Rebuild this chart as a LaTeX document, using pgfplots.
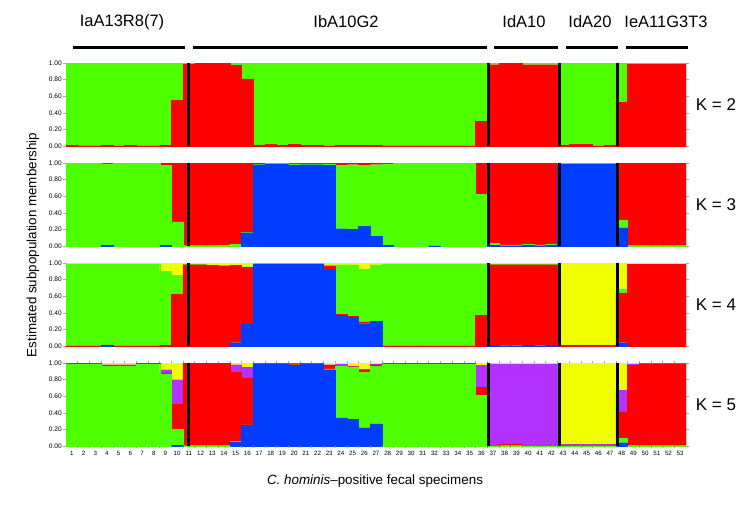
\documentclass[border=0pt]{standalone}
\usepackage{fontspec}
\setmainfont{Liberation Sans}
\usepackage{pgfplots}
\usepackage{pgfplotstable}
\pgfplotsset{compat=1.18}
\definecolor{cgreen}{RGB}{77,255,0}
\definecolor{cred}{RGB}{255,0,0}
\definecolor{cblue}{RGB}{0,61,255}
\definecolor{cyellow}{RGB}{240,255,0}
\definecolor{cpurple}{RGB}{180,50,255}

% K = 2 : red (bottom), green
\pgfplotstableread{
x r g
1 0.01 0.99
2 0.005 0.995
3 0.005 0.995
4 0.01 0.99
5 0.005 0.995
6 0.01 0.99
7 0.005 0.995
8 0.005 0.995
9 0.01 0.99
10 0.55 0.45
11 0.99 0.01
12 1.00 0.00
13 1.00 0.00
14 1.00 0.00
15 0.97 0.03
16 0.81 0.19
17 0.01 0.99
18 0.02 0.98
19 0.01 0.99
20 0.02 0.98
21 0.01 0.99
22 0.01 0.99
23 0.005 0.995
24 0.01 0.99
25 0.01 0.99
26 0.01 0.99
27 0.01 0.99
28 0.005 0.995
29 0.005 0.995
30 0.005 0.995
31 0.005 0.995
32 0.005 0.995
33 0.005 0.995
34 0.005 0.995
35 0.005 0.995
36 0.30 0.70
37 0.98 0.02
38 1.00 0.00
39 1.00 0.00
40 0.98 0.02
41 0.98 0.02
42 0.98 0.02
43 0.01 0.99
44 0.02 0.98
45 0.02 0.98
46 0.005 0.995
47 0.01 0.99
48 0.53 0.47
49 0.99 0.01
50 0.99 0.01
51 0.99 0.01
52 0.99 0.01
53 0.99 0.01
}\ktwo

% K = 3 : blue, green, red
\pgfplotstableread{
x b g r
1 0 0.995 0.005
2 0 0.995 0.005
3 0 0.995 0.005
4 0.01 0.98 0.01
5 0 0.995 0.005
6 0 0.995 0.005
7 0 0.995 0.005
8 0 0.995 0.005
9 0.01 0.96 0.03
10 0.00 0.29 0.71
11 0 0.005 0.995
12 0 0.005 0.995
13 0 0.005 0.995
14 0 0.01 0.99
15 0 0.02 0.98
16 0.16 0.005 0.835
17 0.98 0.005 0.015
18 0.99 0.005 0.005
19 0.99 0.005 0.005
20 0.97 0.02 0.01
21 0.98 0.01 0.01
22 0.98 0.01 0.01
23 0.97 0.02 0.01
24 0.21 0.76 0.03
25 0.20 0.78 0.02
26 0.24 0.73 0.03
27 0.12 0.86 0.02
28 0.01 0.98 0.01
29 0 0.995 0.005
30 0 0.995 0.005
31 0 0.995 0.005
32 0.005 0.99 0.005
33 0 0.995 0.005
34 0 0.995 0.005
35 0 0.995 0.005
36 0 0.62 0.38
37 0.01 0.02 0.97
38 0.005 0.01 0.985
39 0.005 0.01 0.985
40 0.01 0.01 0.98
41 0.005 0.01 0.985
42 0.01 0.01 0.98
43 0.99 0.005 0.005
44 0.99 0.005 0.005
45 0.99 0.005 0.005
46 0.99 0.005 0.005
47 0.99 0.005 0.005
48 0.22 0.09 0.69
49 0 0.005 0.995
50 0 0.005 0.995
51 0 0.005 0.995
52 0 0.005 0.995
53 0 0.005 0.995
}\kthree

% K = 4 : blue, red, green, yellow
\pgfplotstableread{
x b r g y
1 0 0.005 0.985 0.01
2 0 0.005 0.985 0.01
3 0 0.005 0.985 0.01
4 0.01 0.005 0.975 0.01
5 0 0.005 0.985 0.01
6 0 0.005 0.985 0.01
7 0 0.005 0.985 0.01
8 0 0.005 0.985 0.01
9 0 0.01 0.89 0.10
10 0.00 0.62 0.23 0.15
11 0 0.98 0.005 0.015
12 0 0.98 0.005 0.015
13 0 0.97 0.005 0.025
14 0 0.965 0.005 0.03
15 0.04 0.93 0.005 0.025
16 0.26 0.69 0.005 0.045
17 0.985 0.005 0.005 0.005
18 0.985 0.005 0.005 0.005
19 0.985 0.005 0.005 0.005
20 0.985 0.005 0.005 0.005
21 0.985 0.005 0.005 0.005
22 0.985 0.005 0.005 0.005
23 0.93 0.03 0.02 0.02
24 0.37 0.015 0.595 0.02
25 0.35 0.005 0.625 0.02
26 0.27 0.02 0.64 0.07
27 0.29 0.01 0.68 0.02
28 0 0.005 0.985 0.01
29 0 0.005 0.985 0.01
30 0 0.005 0.985 0.01
31 0 0.005 0.985 0.01
32 0 0.005 0.985 0.01
33 0 0.005 0.985 0.01
34 0 0.005 0.985 0.01
35 0 0.005 0.985 0.01
36 0 0.37 0.62 0.01
37 0.01 0.97 0.005 0.015
38 0.005 0.975 0.005 0.015
39 0.005 0.975 0.005 0.015
40 0.01 0.97 0.005 0.015
41 0.005 0.975 0.005 0.015
42 0.01 0.97 0.005 0.015
43 0 0.01 0.005 0.985
44 0 0.01 0.005 0.985
45 0 0.01 0.005 0.985
46 0 0.01 0.005 0.985
47 0 0.01 0.005 0.985
48 0.04 0.60 0.05 0.31
49 0 0.985 0.005 0.01
50 0 0.985 0.005 0.01
51 0 0.985 0.005 0.01
52 0 0.985 0.005 0.01
53 0 0.985 0.005 0.01
}\kfour

% K = 5 : blue, green, red, purple, yellow
\pgfplotstableread{
x b g r p y
1 0 0.99 0.005 0.00 0.005
2 0 0.99 0.005 0.00 0.005
3 0 0.99 0.005 0.00 0.005
4 0 0.965 0.01 0.005 0.02
5 0 0.965 0.01 0.005 0.02
6 0 0.965 0.01 0.005 0.02
7 0 0.99 0.005 0.00 0.005
8 0 0.99 0.005 0.00 0.005
9 0 0.87 0.01 0.04 0.08
10 0.01 0.19 0.30 0.30 0.20
11 0 0.005 0.99 0.00 0.005
12 0 0.005 0.99 0.00 0.005
13 0 0.005 0.99 0.00 0.005
14 0 0.005 0.99 0.00 0.005
15 0.05 0.005 0.835 0.09 0.02
16 0.25 0.005 0.565 0.13 0.05
17 0.985 0.005 0.005 0.00 0.005
18 0.985 0.005 0.005 0.00 0.005
19 0.985 0.005 0.005 0.00 0.005
20 0.97 0.01 0.01 0.005 0.005
21 0.985 0.005 0.005 0.00 0.005
22 0.985 0.005 0.005 0.00 0.005
23 0.92 0.01 0.04 0.01 0.02
24 0.34 0.62 0.005 0.02 0.015
25 0.32 0.63 0.005 0.005 0.04
26 0.22 0.67 0.03 0.005 0.075
27 0.27 0.69 0.02 0.005 0.015
28 0 0.99 0.005 0.00 0.005
29 0 0.99 0.005 0.00 0.005
30 0 0.99 0.005 0.00 0.005
31 0 0.99 0.005 0.00 0.005
32 0 0.99 0.005 0.00 0.005
33 0 0.99 0.005 0.00 0.005
34 0 0.99 0.005 0.00 0.005
35 0 0.99 0.005 0.00 0.005
36 0 0.61 0.10 0.26 0.03
37 0 0.005 0.01 0.975 0.01
38 0 0.005 0.015 0.97 0.01
39 0 0.005 0.015 0.97 0.01
40 0 0.005 0.01 0.975 0.01
41 0 0.005 0.01 0.975 0.01
42 0 0.005 0.01 0.975 0.01
43 0 0.005 0.01 0.005 0.98
44 0 0.005 0.01 0.005 0.98
45 0 0.005 0.01 0.005 0.98
46 0 0.005 0.01 0.005 0.98
47 0 0.005 0.01 0.005 0.98
48 0.04 0.05 0.32 0.26 0.33
49 0 0.005 0.965 0.02 0.01
50 0 0.005 0.985 0.005 0.005
51 0 0.005 0.985 0.005 0.005
52 0 0.005 0.985 0.005 0.005
53 0 0.005 0.985 0.005 0.005
}\kfive

\pgfplotsset{
  panel/.style={
    scale only axis, width=620pt, height=83pt,
    anchor=south west,
    xmin=0.5, xmax=53.5, ymin=0, ymax=1,
    enlargelimits=false,
    ybar stacked, bar width=1,
    axis on top,
    axis line style={draw=none},
    ytick={0,0.2,0.4,0.6,0.8,1},
    yticklabel style={/pgf/number format/.cd, fixed, fixed zerofill, precision=2,
      assume math mode=true, /tikz/.cd, font=\fontsize{6.6}{7}\selectfont, inner sep=1pt},
    ytick style={draw=gray!70, line width=0.4pt},
    tick align=outside, major tick length=3pt,
    xtick=\empty,
    extra x ticks={10.95,36.65,42.65,47.65},
    extra x tick labels={},
    extra x tick style={grid=major, major tick length=0pt,
      major grid style={black, line width=3pt}},
    every axis plot/.append style={line width=0.15pt},
  },
}

\begin{document}
\begin{tikzpicture}
\path[use as bounding box] (0pt,0pt) rectangle (750pt,-504pt);

% group labels and bars
\begin{scope}[font=\fontsize{16.5}{18}\selectfont]
\node at (122pt,-22pt) {IaA13R8(7)};
\node at (346pt,-22pt) {IbA10G2};
\node at (524pt,-22pt) {IdA10};
\node at (590pt,-22pt) {IdA20};
\node at (666pt,-22pt) {IeA11G3T3};
\end{scope}
\draw[line width=3pt] (73pt,-47pt) -- (185pt,-47pt);
\draw[line width=3pt] (193pt,-47pt) -- (487pt,-47pt);
\draw[line width=3pt] (494pt,-47pt) -- (558pt,-47pt);
\draw[line width=3pt] (566pt,-47pt) -- (618pt,-47pt);
\draw[line width=3pt] (626pt,-47pt) -- (688pt,-47pt);

% K = 2
\begin{axis}[panel, at={(66pt,-146pt)}]
\addplot[fill=cred, draw=cred] table[x=x,y=r]{\ktwo};
\addplot[fill=cgreen, draw=cgreen] table[x=x,y=g]{\ktwo};
\end{axis}

% K = 3
\begin{axis}[panel, at={(66pt,-246pt)}]
\addplot[fill=cblue, draw=cblue] table[x=x,y=b]{\kthree};
\addplot[fill=cgreen, draw=cgreen] table[x=x,y=g]{\kthree};
\addplot[fill=cred, draw=cred] table[x=x,y=r]{\kthree};
\end{axis}

% K = 4
\begin{axis}[panel, at={(66pt,-346pt)}]
\addplot[fill=cblue, draw=cblue] table[x=x,y=b]{\kfour};
\addplot[fill=cred, draw=cred] table[x=x,y=r]{\kfour};
\addplot[fill=cgreen, draw=cgreen] table[x=x,y=g]{\kfour};
\addplot[fill=cyellow, draw=cyellow] table[x=x,y=y]{\kfour};
\end{axis}

% K = 5
\begin{axis}[panel, at={(66pt,-446pt)},
  xtick={1,...,53},
  xticklabel style={font=\fontsize{6.2}{7}\selectfont, inner sep=1pt, yshift=-1pt},
  xtick style={draw=none},
  minor xtick={1.5,2.5,...,52.5},
  minor x tick style={draw=gray!70, line width=0.4pt},
  minor tick length=2pt,
  /pgf/number format/assume math mode=true]
\addplot[fill=cblue, draw=cblue] table[x=x,y=b]{\kfive};
\addplot[fill=cgreen, draw=cgreen] table[x=x,y=g]{\kfive};
\addplot[fill=cred, draw=cred] table[x=x,y=r]{\kfive};
\addplot[fill=cpurple, draw=cpurple] table[x=x,y=p]{\kfive};
\addplot[fill=cyellow, draw=cyellow] table[x=x,y=y]{\kfive};
\end{axis}

% K labels
\begin{scope}[font=\fontsize{17}{19}\selectfont]
\node at (716pt,-104.5pt) {K = 2};
\node at (716pt,-204.5pt) {K = 3};
\node at (716pt,-304.5pt) {K = 4};
\node at (716pt,-404.5pt) {K = 5};
\end{scope}

% axis titles
\node[rotate=90, font=\fontsize{13.4}{15}\selectfont] at (33pt,-245pt) {Estimated subpopulation membership};
\node[font=\fontsize{13.4}{15}\selectfont] at (375pt,-481pt) {\textit{C. hominis}–positive fecal specimens};
\end{tikzpicture}
\end{document}
